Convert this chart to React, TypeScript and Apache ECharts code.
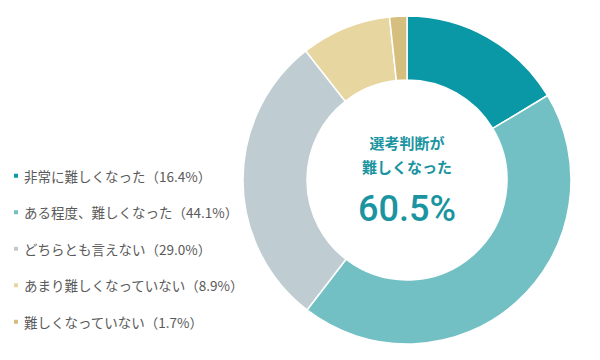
import React, { useEffect, useRef } from "react";
import * as echarts from "echarts";

const categories = [
  "非常に難しくなった",
  "ある程度、難しくなった",
  "どちらとも言えない",
  "あまり難しくなっていない",
  "難しくなっていない",
];
const values = [16.4, 44.1, 29.0, 8.9, 1.7];
const colors = ["#0a97a6", "#72c0c4", "#bfcdd2", "#e8d6a0", "#d6bf7e"];
const centerLines = ["選考判断が", "難しくなった"];
const centerValue = "60.5%";

export default function App() {
  const ref = useRef<HTMLDivElement>(null);
  useEffect(() => {
    if (!ref.current) return;
    const chart = echarts.init(ref.current, null, { renderer: "svg" });
    const font = "'Noto Sans CJK JP', 'Noto Sans', sans-serif";
    const cx = 407;
    chart.setOption({
      animation: false,
      color: colors,
      legend: {
        orient: "vertical",
        left: 7,
        top: 164,
        icon: "rect",
        itemWidth: 6,
        itemHeight: 6,
        itemGap: 23,
        selectedMode: false,
        formatter: (name: string) => {
          const i = categories.indexOf(name);
          return `${name}（${values[i].toFixed(1)}%）`;
        },
        textStyle: { color: "#5a5a5a", fontSize: 13.5, fontFamily: font },
      },
      graphic: [
        {
          type: "text",
          x: cx,
          y: 142,
          style: {
            text: centerLines[0],
            fill: "#1a94a0",
            font: `bold 15px ${font}`,
            textAlign: "center",
            textVerticalAlign: "middle",
          },
        },
        {
          type: "text",
          x: cx,
          y: 166,
          style: {
            text: centerLines[1],
            fill: "#1a94a0",
            font: `bold 15px ${font}`,
            textAlign: "center",
            textVerticalAlign: "middle",
          },
        },
        {
          type: "text",
          x: cx,
          y: 209,
          style: {
            text: centerValue,
            fill: "#1a94a0",
            font: `500 36px Roboto, 'Noto Sans', sans-serif`,
            textAlign: "center",
            textVerticalAlign: "middle",
          },
        },
      ],
      series: [
        {
          type: "pie",
          center: [cx, 180],
          radius: [100, 164],
          startAngle: 90,
          clockwise: true,
          label: { show: false },
          labelLine: { show: false },
          itemStyle: { borderColor: "#fff", borderWidth: 1.5 },
          data: categories.map((c, i) => ({ name: c, value: values[i] })),
        },
      ],
    });
    return () => chart.dispose();
  }, []);
  return (
    <div
      ref={ref}
      style={{ position: "absolute", left: 0, top: 0, width: 600, height: 360 }}
    />
  );
}
